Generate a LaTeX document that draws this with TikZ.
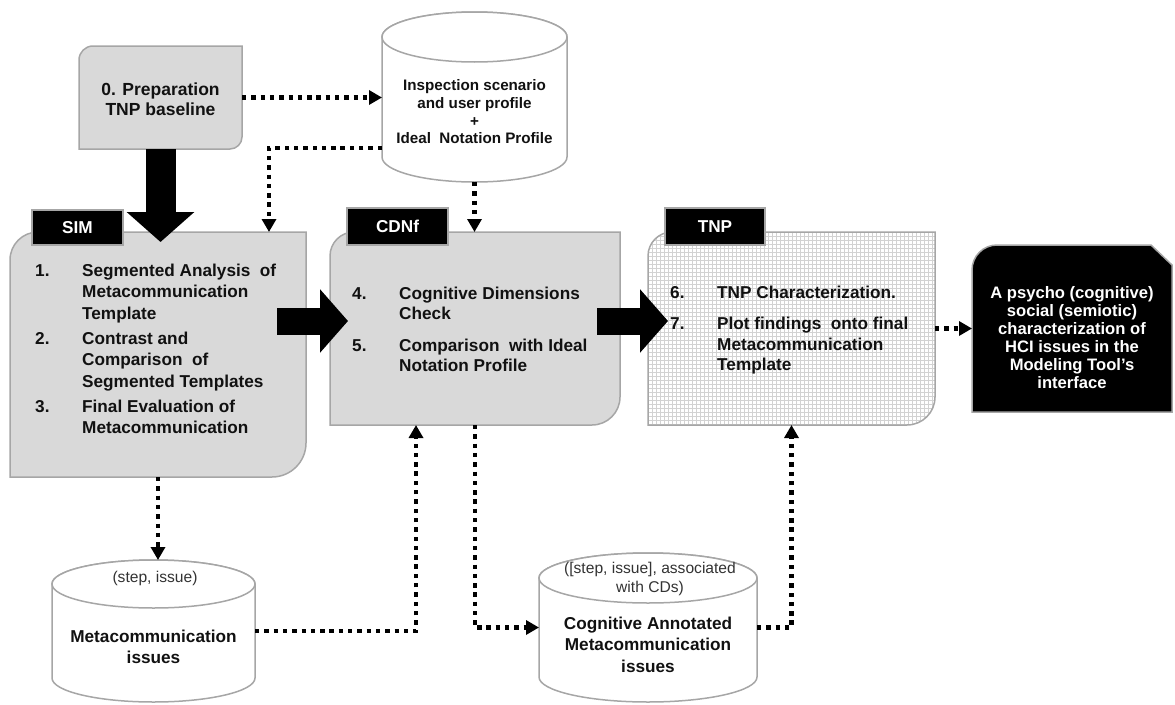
\documentclass[tikz,border=0pt]{standalone}
\usepackage{fontspec}
\setmainfont{Liberation Sans}
\usetikzlibrary{arrows.meta,calc}
\definecolor{boxgray}{HTML}{D9D9D9}
\definecolor{bordergray}{HTML}{A6A6A6}
\definecolor{txtgray}{HTML}{333333}
\definecolor{txtblack}{HTML}{111111}
\definecolor{gridgray}{HTML}{D2D2D2}
\newcommand{\procshape}[7]{\path[#1] (#2,#5) -- (#2,{#3+#6}) arc[start angle=180,end angle=270,radius=#6] -- (#4,#3) -- (#4,{#5-#7}) arc[start angle=0,end angle=90,radius=#7] -- cycle;}
\newcommand{\cylshape}[5]{%
  \filldraw[cylst] ({#1-#4},{#2+#5}) -- ({#1-#4},{#3-#5}) arc[start angle=180,end angle=0,x radius=#4,y radius=#5] -- ({#1+#4},{#2+#5}) arc[start angle=0,end angle=-180,x radius=#4,y radius=#5] -- cycle;
  \draw[cylst] (#1,{#2+#5}) ellipse[x radius=#4,y radius=#5];}
\newcommand{\ind}{\hspace*{47pt}}
\tikzset{
  boxfill/.style={fill=boxgray, draw=bordergray, line width=1.5pt},
  boxline/.style={draw=bordergray, line width=1.5pt},
  outfill/.style={fill=black, draw=bordergray, line width=1.5pt},
  cylst/.style={fill=white, draw=bordergray, line width=1.5pt},
  area/.style={inner sep=0pt, outer sep=0pt, draw=none},
  lab/.style={fill=black, draw=gray!70, line width=1.2pt, text=white, inner sep=0pt,
    font=\fontsize{17.2}{20}\selectfont\bfseries},
  bt/.style={inner sep=0pt, text=txtblack, align=left, font=\fontsize{17.2}{21.5}\selectfont\bfseries},
  ct/.style={inner sep=0pt, text=txtblack, align=center},
  rt/.style={inner sep=0pt, text=txtgray, align=center, font=\fontsize{15.6}{19}\selectfont},
  dotarr/.style={line width=4.4pt, dash pattern=on 4.4pt off 4.9pt, black,
    -{Triangle[width=14pt,length=13pt]}},
  bigarr/.style={line width=27pt, black, -{Triangle[width=62pt,length=28pt]}},
  bigarrv/.style={line width=30pt, black, -{Triangle[width=66pt,length=30pt]}},
}
\begin{document}
\begin{tikzpicture}[x=1pt,y=-1pt]
\useasboundingbox (0,0) rectangle (1175,704);

% ---- process boxes
\procshape{boxfill}{79}{46}{242}{149}{14}{12}
\node[area, minimum width=163pt, minimum height=103pt] (prep) at (160.5,97.5) {};
\procshape{boxfill}{10}{232}{306}{477}{28}{34}
\node[area, minimum width=296pt, minimum height=245pt] (sim) at (158,354.5) {};
\procshape{boxfill}{330}{232}{620}{425}{24}{28}
\node[area, minimum width=290pt, minimum height=193pt] (cdnf) at (475,328.5) {};
\begin{scope}
  \procshape{clip}{648}{232}{935}{425}{24}{28}
  \fill[white] (640,430) rectangle (940,220);
  \draw[gridgray, line width=0.8pt, step=4pt] (640,430) grid (940,220);
\end{scope}
\procshape{boxline}{648}{232}{935}{425}{24}{28}
\node[area, minimum width=287pt, minimum height=193pt] (tnp) at (791.5,328.5) {};
\path[outfill] (972,412) -- (972,270) arc[start angle=180,end angle=270,radius=25] -- (1151,245) -- (1172,265) -- (1172,412) -- cycle;
\node[area, minimum width=200pt, minimum height=167pt] (out) at (1072,328.5) {};

% ---- cylinders
\cylshape{474.5}{12}{182}{92.5}{25}
\node[area, minimum width=185pt, minimum height=170pt] (cyl1) at (474.5,97) {};
\cylshape{153.5}{560}{702}{101.5}{24}
\node[area, minimum width=203pt, minimum height=142pt] (cyl3) at (153.5,631) {};
\cylshape{648}{553}{702}{109}{25}
\node[area, minimum width=218pt, minimum height=149pt] (cyl4) at (648,627.5) {};

% ---- labels
\node[lab, minimum width=91pt, minimum height=35pt] (simlab) at (77.5,227.5) {SIM};
\node[lab, minimum width=101pt, minimum height=37pt] (cdnflab) at (397.5,226.5) {CDNf};
\node[lab, minimum width=100pt, minimum height=37pt] (tnplab) at (715,226.5) {TNP};

% ---- texts
\node[ct, anchor=north, font=\fontsize{17.5}{20}\selectfont\bfseries] (preptxt) at (160.5,82.5) {0. Preparation\\TNP baseline};
\node[ct, anchor=north, font=\fontsize{15.2}{17.7}\selectfont\bfseries] (cyl1txt) at (474.5,79.5)
  {Inspection scenario\\and user profile\\+\\Ideal~ Notation Profile};

\node[bt, anchor=north west] (s1) at (35,263.7) {\makebox[47pt][l]{1.}Segmented Analysis~ of\\\ind Metacommunication\\\ind Template};
\node[bt, anchor=north west] (s2) at (35,331.7) {\makebox[47pt][l]{2.}Contrast and\\\ind Comparison~ of\\\ind Segmented Templates};
\node[bt, anchor=north west] (s3) at (35,399.7) {\makebox[47pt][l]{3.}Final Evaluation of\\\ind Metacommunication};

\node[bt, anchor=north west, font=\fontsize{17.2}{20.3}\selectfont\bfseries] (c1) at (352,286.7) {\makebox[47pt][l]{4.}Cognitive Dimensions\\\ind Check};
\node[bt, anchor=north west, font=\fontsize{17.2}{20.3}\selectfont\bfseries] (c2) at (352,338.7) {\makebox[47pt][l]{5.}Comparison~ with Ideal\\\ind Notation Profile};

\node[bt, anchor=north west] (t1) at (670,285.7) {\makebox[47pt][l]{6.}TNP Characterization.};
\node[bt, anchor=north west, font=\fontsize{17.2}{20.7}\selectfont\bfseries] (t2) at (670,316.7) {\makebox[47pt][l]{7.}Plot findings~ onto final\\\ind Metacommunication\\\ind Template};

\node[ct, text=white, font=\fontsize{16.6}{18}\selectfont\bfseries] (outtxt) at (1072,338)
  {A psycho (cognitive)\\social (semiotic)\\characterization of\\HCI issues in the\\Modeling Tool’s\\interface};

\node[rt] (cyl3sub) at (155,578) {(step, issue)};
\node[ct, anchor=north, font=\fontsize{17.2}{21}\selectfont\bfseries] (cyl3txt) at (153.5,629.7) {Metacommunication\\issues};
\node[rt, anchor=north] (cyl4sub) at (650,562.3) {([step, issue], associated\\with CDs)};
\node[ct, anchor=north, font=\fontsize{17.2}{21.5}\selectfont\bfseries] (cyl4txt) at (648,616.7) {Cognitive Annotated\\Metacommunication\\issues};

% ---- big arrows
\coordinate (arow) at (0,321);
\draw[bigarrv] (prep.south) -- ([yshift=-10pt]prep.south |- sim.north);
\draw[bigarr] ([xshift=-29pt]sim.east |- arow) -- ([xshift=18pt]cdnf.west |- arow);
\draw[bigarr] ([xshift=-23pt]cdnf.east |- arow) -- ([xshift=20pt]tnp.west |- arow);

% ---- dotted connectors
\draw[dotarr] (prep.east) -- (prep.east -| cyl1.west);
\draw[dotarr] ([yshift=34pt]cyl1.south west) -| ([xshift=-37pt]sim.north east);
\draw[dotarr] (cyl1.south) -- (cyl1.south |- cdnf.north);
\draw[dotarr] (sim.south) -- (sim.south |- cyl3.north);
\draw[dotarr] (cyl3.east) -| ([xshift=86pt]cdnf.south west);
\draw[dotarr] (cdnf.south) |- (cyl4.west);
\draw[dotarr] (cyl4.east) -| (tnp.south);
\draw[dotarr] (tnp.east) -- (out.west);
\end{tikzpicture}
\end{document}
